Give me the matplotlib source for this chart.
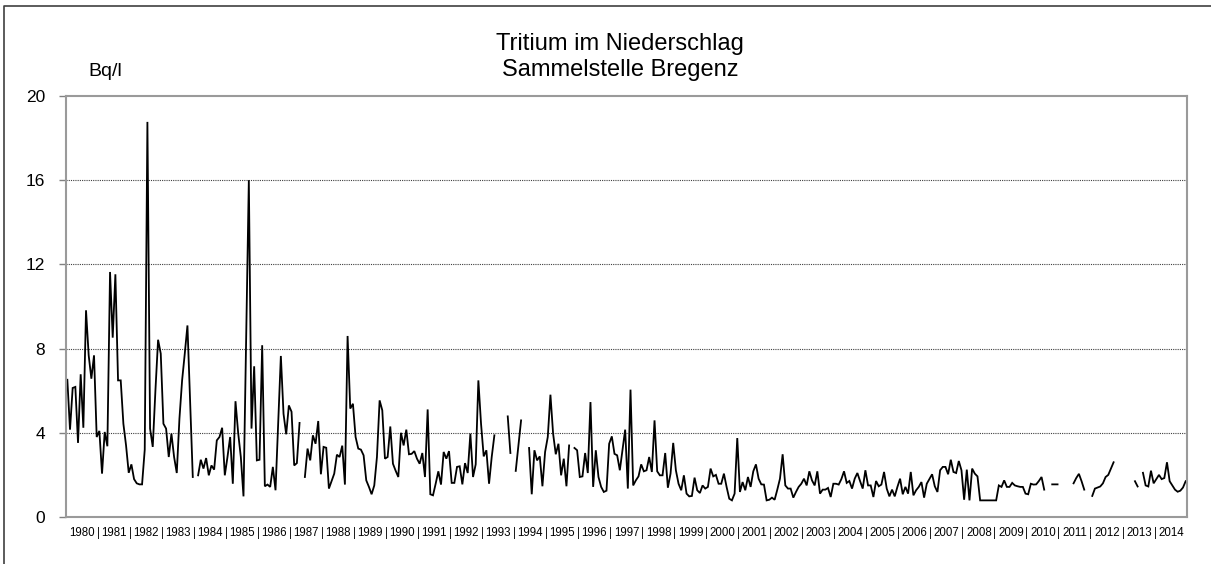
import numpy as np
import matplotlib.pyplot as plt
from matplotlib.lines import Line2D

nan = np.nan

# === Tritium im Niederschlag, Bregenz: Monatswerte in Bq/l ===
bq_1980_1984 = [
    6.52, 4.15, 6.13, 6.18, 3.52, 6.78, 4.24, 9.82, 7.68, 6.57, 7.68, 3.80,
    4.09, 2.06, 4.04, 3.36, 11.64, 8.52, 11.53, 6.49, 6.49, 4.43, 3.40, 2.10,
    2.50, 1.80, 1.60, 1.55, 1.55, 3.20, 18.77, 4.20, 3.33, 6.00, 8.42, 7.76,
    4.43, 4.20, 2.85, 3.96, 2.85, 2.09, 4.67, 6.49, 7.76, 9.10, 5.50, 1.90,
    nan, 1.98, 2.72, 2.30, 2.80, 1.98, 2.45, 2.25, 3.64, 3.80, 4.24, 1.98,
]
bq_1985_1989 = [
    2.85, 3.80, 1.58, 5.50, 4.00, 2.85, 0.98, 8.50, 16.00, 4.20, 7.16, 2.69,
    2.72, 8.16, 1.46, 1.54, 1.43, 2.38, 1.27, 4.50, 7.65, 4.90, 3.93, 5.30,
    5.00, 2.45, 2.56, 4.47, nan, 1.90, 3.25, 2.69, 3.88, 3.48, 4.56, 2.03,
    3.33, 3.29, 1.35, 1.70, 2.06, 2.96, 2.85, 3.39, 1.54, 8.60, 5.15, 5.38,
    3.80, 3.25, 3.20, 2.93, 1.74, 1.43, 1.08, 1.50, 2.85, 5.54, 5.07, 2.77,
]
bq_1990_1994 = [
    2.85, 4.30, 2.53, 2.20, 1.90, 4.00, 3.40, 4.15, 2.98, 3.00, 3.13, 2.77,
    2.53, 3.04, 1.90, 5.11, 1.08, 1.03, 1.58, 2.17, 1.54, 3.09, 2.77, 3.13,
    1.62, 1.62, 2.38, 2.41, 1.55, 2.56, 2.09, 3.96, 1.90, 2.50, 6.49, 4.43,
    2.88, 3.17, 1.58, 2.85, 3.88, nan, nan, nan, nan, 4.78, 3.04, nan,
    2.19, 3.40, 4.59, nan, nan, 3.28, 1.08, 3.17, 2.69, 2.88, 1.46, 3.09,
]
bq_1995_1999 = [
    3.80, 5.81, 3.96, 2.98, 3.48, 1.98, 2.77, 1.46, 3.40, nan, 3.28, 3.17,
    1.90, 1.93, 3.04, 2.09, 5.46, 1.43, 3.17, 1.90, 1.43, 1.19, 1.25, 3.48,
    3.83, 3.00, 2.93, 2.22, 3.17, 4.15, 1.35, 6.05, 1.50, 1.74, 1.93, 2.50,
    2.17, 2.22, 2.85, 2.14, 4.59, 2.17, 1.98, 1.98, 3.04, 1.39, 2.06, 3.52,
    2.22, 1.58, 1.27, 1.98, 1.11, 0.98, 1.00, 1.87, 1.27, 1.14, 1.50, 1.35,
]
bq_2000_2004 = [
    1.43, 2.30, 1.93, 2.00, 1.58, 1.58, 2.06, 1.43, 0.87, 0.79, 1.11, 3.75,
    1.19, 1.66, 1.27, 1.90, 1.43, 2.17, 2.50, 1.82, 1.55, 1.54, 0.79, 0.82,
    0.92, 0.82, 1.30, 1.82, 2.98, 1.50, 1.35, 1.35, 0.92, 1.19, 1.43, 1.58,
    1.82, 1.50, 2.17, 1.74, 1.50, 2.17, 1.11, 1.30, 1.30, 1.38, 0.95, 1.58,
    1.58, 1.54, 1.80, 2.17, 1.62, 1.71, 1.35, 1.82, 2.09, 1.71, 1.35, 2.22,
]
bq_2005_2009 = [
    1.50, 1.50, 0.95, 1.71, 1.46, 1.54, 2.14, 1.35, 0.98, 1.30, 0.98, 1.43,
    1.82, 1.08, 1.43, 1.11, 2.14, 1.03, 1.27, 1.43, 1.66, 0.92, 1.58, 1.80,
    2.03, 1.46, 1.19, 2.22, 2.38, 2.38, 2.03, 2.72, 2.14, 2.09, 2.66, 2.22,
    0.82, 2.25, 0.79, 2.30, 2.06, 1.93, 0.79, 0.79, 0.79, 0.79, 0.79, 0.79,
    0.79, 1.50, 1.43, 1.74, 1.43, 1.43, 1.62, 1.50, 1.46, 1.43, 1.43, 1.11,
]
bq_2010_2014 = [
    1.08, 1.58, 1.54, 1.55, 1.71, 1.90, 1.30, nan, nan, 1.55, 1.55, 1.55,
    nan, nan, nan, nan, nan, 1.60, 1.85, 2.05, 1.70, 1.30, nan, nan,
    1.00, 1.35, 1.40, 1.45, 1.60, 1.90, 2.00, 2.30, 2.60, nan, nan, nan,
    nan, nan, nan, nan, 1.70, 1.45, nan, 2.10, 1.50, 1.45, 2.20, 1.60,
    1.80, 2.00, 1.80, 1.85, 2.60, 1.70, 1.50, 1.30, 1.20, 1.25, 1.40, 1.70,
]
years = list(range(1980, 2015))
y_ticks = [0, 4, 8, 12, 16, 20]

werte = np.array(bq_1980_1984 + bq_1985_1989 + bq_1990_1994
                 + bq_1995_1999 + bq_2000_2004 + bq_2005_2009 + bq_2010_2014)
monate = np.arange(len(werte)) + 0.5

# === Figur ===
fig = plt.figure(figsize=(12.11, 5.64), dpi=100)
plt.rcParams['font.family'] = ['Liberation Sans', 'DejaVu Sans']
ax = fig.add_axes([66 / 1211, 1 - 517 / 564, 1121 / 1211, 421 / 564])

ax.plot(monate, werte, color='black', lw=1.3, solid_joinstyle='miter')

ax.set_xlim(0, 12 * len(years))
ax.set_ylim(0, 20)
ax.set_yticks(y_ticks)
ax.set_yticklabels([str(t) for t in y_ticks], fontsize=12.5)
ax.tick_params(axis='y', length=5, width=1, color='#808080', pad=10)

# Jahreslabels in der Mitte, "|" an den Jahresgrenzen
ax.set_xticks([12 * k + 6 for k in range(len(years))])
ax.set_xticklabels([str(j) for j in years], fontsize=8.3)
ax.set_xticks([12 * k for k in range(1, len(years))], minor=True)
ax.set_xticklabels(['|'] * (len(years) - 1), minor=True, fontsize=8.3)
ax.tick_params(axis='x', which='both', length=0, pad=7)

for v in [4, 8, 12, 16]:
    ax.axhline(v, color='#404040', lw=0.8, linestyle=(0, (1, 1)), zorder=0)

for s in ax.spines.values():
    s.set_color('#9a9a9a')
    s.set_linewidth(1.5)

fig.text(620 / 1211, 1 - 44 / 564, 'Tritium im Niederschlag', ha='center', va='center', fontsize=17)
fig.text(620 / 1211, 1 - 70 / 564, 'Sammelstelle Bregenz', ha='center', va='center', fontsize=17)
fig.text(88 / 1211, 1 - 72 / 564, 'Bq/l', ha='left', va='center', fontsize=14)

# Rahmen des Diagrammbereichs (nur links und oben sichtbar)
fig.add_artist(Line2D([3.5 / 1211, 3.5 / 1211, 1], [0, 1 - 5.5 / 564, 1 - 5.5 / 564],
                      color='#404040', lw=1.2, transform=fig.transFigure))

fig.savefig('out.png', dpi=100)
